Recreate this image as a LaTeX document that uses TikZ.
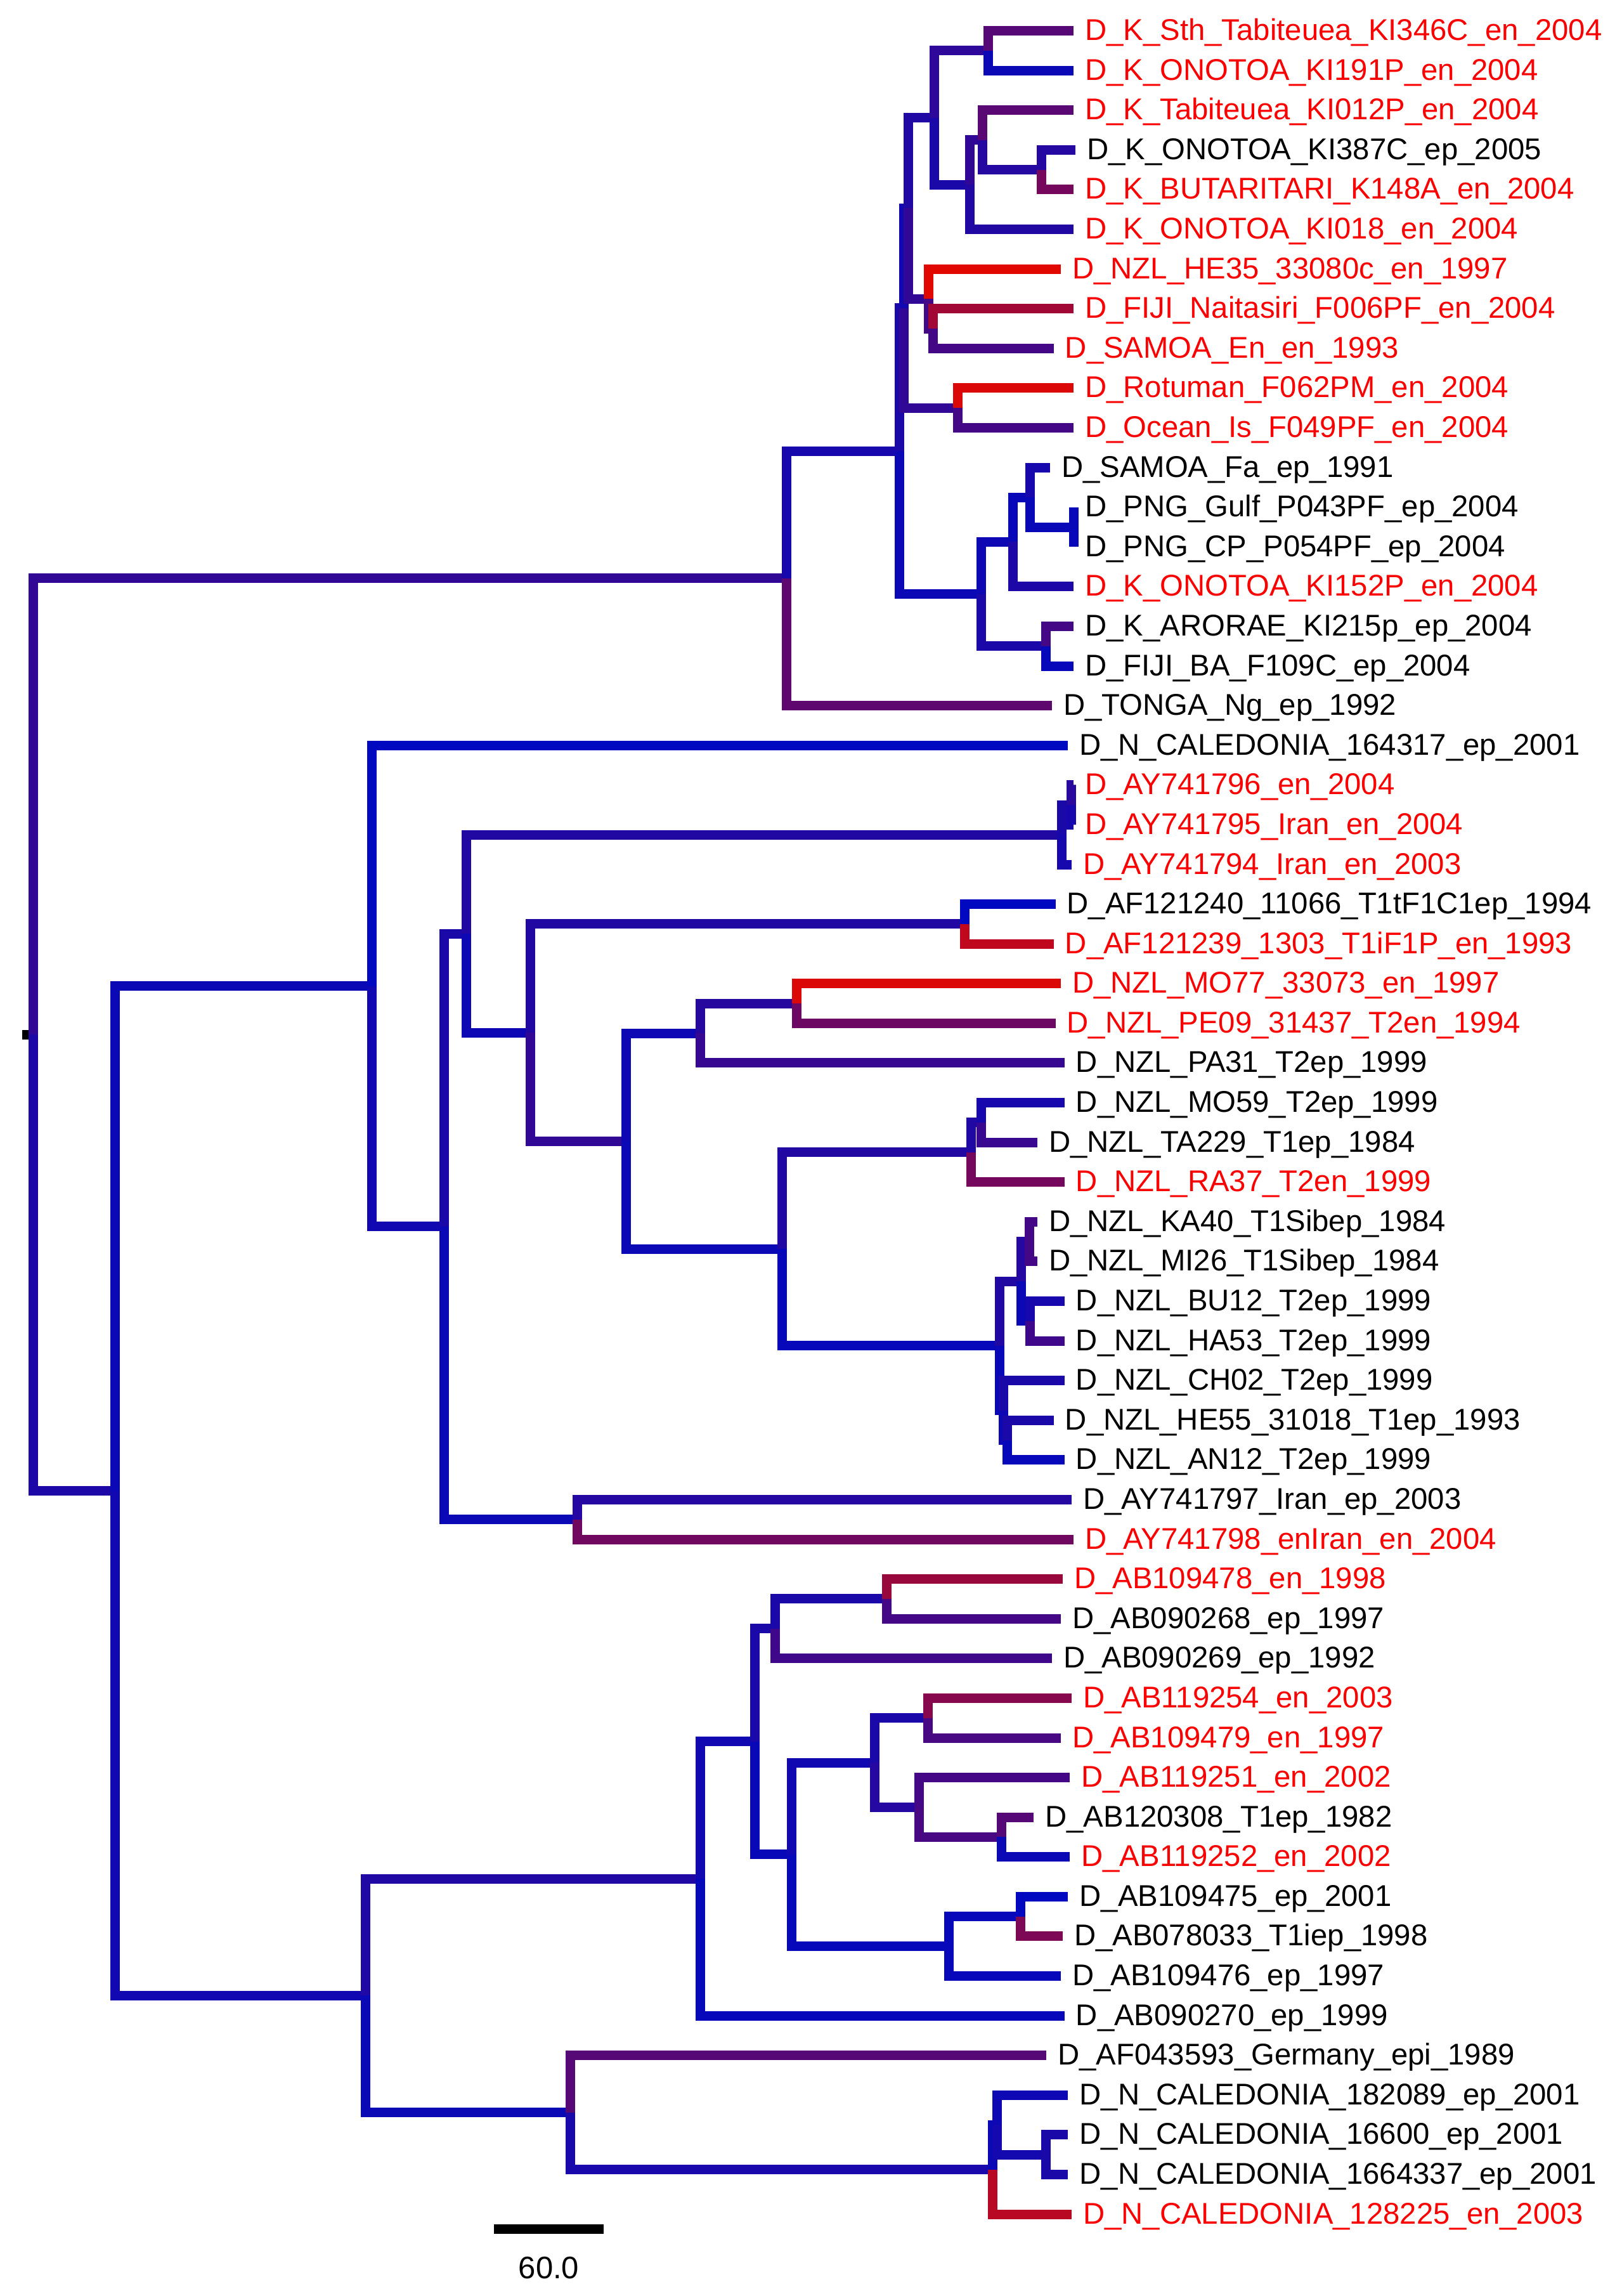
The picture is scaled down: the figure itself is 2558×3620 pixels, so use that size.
\documentclass[tikz,border=0pt]{standalone}
\usepackage{fontspec}
\setmainfont{Liberation Sans}
\definecolor{cr}{RGB}{225,8,0}
\definecolor{cb}{RGB}{0,8,192}
\definecolor{labred}{RGB}{250,0,0}
\newcommand\tip[5]{%
  \coordinate (#1) at ({1693+(#3-2004)*2.85},{48.6+(#2-1)*62.59});
  \node[lab,text=#4] (#1t) at ({1711+(#3-2004)*2.85},{63.6+(#2-1)*62.59}) {#5};}
\newcommand\br[3]{\draw[branch,draw=cr!#1!cb] (#2) |- (#3);}
\begin{document}
\begin{tikzpicture}[x=1pt,y=-1pt,
  branch/.style={line width=15pt,line join=miter},
  lab/.style={anchor=base west,inner sep=0pt,font=\fontsize{47.3}{50}\selectfont}]
\fill[white] (0,0) rectangle (2558,3620);
\useasboundingbox (0,0) rectangle (2558,3620);
% leaves
\tip{L1}{1}{2004}{labred}{D\_K\_Sth\_Tabiteuea\_KI346C\_en\_2004}
\tip{L2}{2}{2004}{labred}{D\_K\_ONOTOA\_KI191P\_en\_2004}
\tip{L3}{3}{2004}{labred}{D\_K\_Tabiteuea\_KI012P\_en\_2004}
\tip{L4}{4}{2005}{black}{D\_K\_ONOTOA\_KI387C\_ep\_2005}
\tip{L5}{5}{2004}{labred}{D\_K\_BUTARITARI\_K148A\_en\_2004}
\tip{L6}{6}{2004}{labred}{D\_K\_ONOTOA\_KI018\_en\_2004}
\tip{L7}{7}{1997}{labred}{D\_NZL\_HE35\_33080c\_en\_1997}
\tip{L8}{8}{2004}{labred}{D\_FIJI\_Naitasiri\_F006PF\_en\_2004}
\tip{L9}{9}{1993}{labred}{D\_SAMOA\_En\_en\_1993}
\tip{L10}{10}{2004}{labred}{D\_Rotuman\_F062PM\_en\_2004}
\tip{L11}{11}{2004}{labred}{D\_Ocean\_Is\_F049PF\_en\_2004}
\tip{L12}{12}{1991}{black}{D\_SAMOA\_Fa\_ep\_1991}
\tip{L13}{13}{2004}{black}{D\_PNG\_Gulf\_P043PF\_ep\_2004}
\tip{L14}{14}{2004}{black}{D\_PNG\_CP\_P054PF\_ep\_2004}
\tip{L15}{15}{2004}{labred}{D\_K\_ONOTOA\_KI152P\_en\_2004}
\tip{L16}{16}{2004}{black}{D\_K\_ARORAE\_KI215p\_ep\_2004}
\tip{L17}{17}{2004}{black}{D\_FIJI\_BA\_F109C\_ep\_2004}
\tip{L18}{18}{1992}{black}{D\_TONGA\_Ng\_ep\_1992}
\tip{L19}{19}{2001}{black}{D\_N\_CALEDONIA\_164317\_ep\_2001}
\tip{L20}{20}{2004}{labred}{D\_AY741796\_en\_2004}
\tip{L21}{21}{2004}{labred}{D\_AY741795\_Iran\_en\_2004}
\tip{L22}{22}{2003}{labred}{D\_AY741794\_Iran\_en\_2003}
\tip{L23}{23}{1994}{black}{D\_AF121240\_11066\_T1tF1C1ep\_1994}
\tip{L24}{24}{1993}{labred}{D\_AF121239\_1303\_T1iF1P\_en\_1993}
\tip{L25}{25}{1997}{labred}{D\_NZL\_MO77\_33073\_en\_1997}
\tip{L26}{26}{1994}{labred}{D\_NZL\_PE09\_31437\_T2en\_1994}
\tip{L27}{27}{1999}{black}{D\_NZL\_PA31\_T2ep\_1999}
\tip{L28}{28}{1999}{black}{D\_NZL\_MO59\_T2ep\_1999}
\tip{L29}{29}{1984}{black}{D\_NZL\_TA229\_T1ep\_1984}
\tip{L30}{30}{1999}{labred}{D\_NZL\_RA37\_T2en\_1999}
\tip{L31}{31}{1984}{black}{D\_NZL\_KA40\_T1Sibep\_1984}
\tip{L32}{32}{1984}{black}{D\_NZL\_MI26\_T1Sibep\_1984}
\tip{L33}{33}{1999}{black}{D\_NZL\_BU12\_T2ep\_1999}
\tip{L34}{34}{1999}{black}{D\_NZL\_HA53\_T2ep\_1999}
\tip{L35}{35}{1999}{black}{D\_NZL\_CH02\_T2ep\_1999}
\tip{L36}{36}{1993}{black}{D\_NZL\_HE55\_31018\_T1ep\_1993}
\tip{L37}{37}{1999}{black}{D\_NZL\_AN12\_T2ep\_1999}
\tip{L38}{38}{2003}{black}{D\_AY741797\_Iran\_ep\_2003}
\tip{L39}{39}{2004}{labred}{D\_AY741798\_enIran\_en\_2004}
\tip{L40}{40}{1998}{labred}{D\_AB109478\_en\_1998}
\tip{L41}{41}{1997}{black}{D\_AB090268\_ep\_1997}
\tip{L42}{42}{1992}{black}{D\_AB090269\_ep\_1992}
\tip{L43}{43}{2003}{labred}{D\_AB119254\_en\_2003}
\tip{L44}{44}{1997}{labred}{D\_AB109479\_en\_1997}
\tip{L45}{45}{2002}{labred}{D\_AB119251\_en\_2002}
\tip{L46}{46}{1982}{black}{D\_AB120308\_T1ep\_1982}
\tip{L47}{47}{2002}{labred}{D\_AB119252\_en\_2002}
\tip{L48}{48}{2001}{black}{D\_AB109475\_ep\_2001}
\tip{L49}{49}{1998}{black}{D\_AB078033\_T1iep\_1998}
\tip{L50}{50}{1997}{black}{D\_AB109476\_ep\_1997}
\tip{L51}{51}{1999}{black}{D\_AB090270\_ep\_1999}
\tip{L52}{52}{1989}{black}{D\_AF043593\_Germany\_epi\_1989}
\tip{L53}{53}{2001}{black}{D\_N\_CALEDONIA\_182089\_ep\_2001}
\tip{L54}{54}{2001}{black}{D\_N\_CALEDONIA\_16600\_ep\_2001}
\tip{L55}{55}{2001}{black}{D\_N\_CALEDONIA\_1664337\_ep\_2001}
\tip{L56}{56}{2003}{labred}{D\_N\_CALEDONIA\_128225\_en\_2003}
% internal nodes
\coordinate (root) at (52,1631.2);
\coordinate (A) at (1240,911.9);
\coordinate (A1) at (1418,711.2);
\coordinate (G3) at (1425,485.75);
\coordinate (G1) at (1432,328.3);
\coordinate (K5) at (1473,185.5);
\coordinate (K1) at (1558,79.9);
\coordinate (K4) at (1529,291.1);
\coordinate (K3) at (1549,220.7);
\coordinate (K2) at (1642,267.67);
\coordinate (F1) at (1464,471.1);
\coordinate (F2) at (1471,518.0);
\coordinate (R) at (1510,643.2);
\coordinate (P) at (1547,936.6);
\coordinate (P1) at (1597,854.4);
\coordinate (P3) at (1624.5,784.0);
\coordinate (P4) at (1693,831.0);
\coordinate (P2) at (1649,1018.7);
\coordinate (B) at (181,2350.5);
\coordinate (C) at (586,1554.6);
\coordinate (C1) at (700,1933.9);
\coordinate (C2) at (735,1472.0);
\coordinate (C3) at (910,2395.7);
\coordinate (C4) at (1674,1316.0);
\coordinate (C6) at (1689,1269.1);
\coordinate (C5) at (836,1628.1);
\coordinate (C7) at (1521,1456.9);
\coordinate (C8) at (987,1799.2);
\coordinate (C9) at (1104,1629.0);
\coordinate (C11) at (1256,1582.1);
\coordinate (C10) at (1233,1969.4);
\coordinate (C12) at (1531,1816.8);
\coordinate (C14) at (1547,1769.8);
\coordinate (C13) at (1576,2121.9);
\coordinate (C15) at (1610,2020.2);
\coordinate (C16) at (1623,1957.6);
\coordinate (C17) at (1624,2082.8);
\coordinate (C18) at (1582,2223.6);
\coordinate (C19) at (1588,2270.5);
\coordinate (D) at (576,3146.3);
\coordinate (D1) at (1104,2962.0);
\coordinate (D3) at (1190,2745.8);
\coordinate (D4) at (1222,2567.8);
\coordinate (D6) at (1398,2520.9);
\coordinate (D5) at (1248.5,2923.8);
\coordinate (D7) at (1379,2779.1);
\coordinate (D9) at (1463,2708.7);
\coordinate (D10) at (1449,2849.5);
\coordinate (D11) at (1579,2896.4);
\coordinate (D8) at (1496,3068.6);
\coordinate (D12) at (1609.5,3021.6);
\coordinate (D2) at (899,3330.6);
\coordinate (D13) at (1565,3420.6);
\coordinate (D14) at (1572,3350.2);
\coordinate (D15) at (1649.5,3397.2);
% root stub
\coordinate (stub) at (35,1631.2);
\draw[line width=15pt,black] (stub) -- (root);
% branches
\br{22}{root}{A}
\br{13}{root}{B}
\br{10}{A}{A1}
\br{42}{A}{L18}
\br{12}{A1}{G3}
\br{5}{A1}{P}
\br{8}{G3}{G1}
\br{22}{G3}{R}
\br{14}{G1}{K5}
\br{22}{G1}{F1}
\br{20}{K5}{K1}
\br{12}{K5}{K4}
\br{38}{K1}{L1}
\br{5}{K1}{L2}
\br{22}{K4}{K3}
\br{15}{K4}{L6}
\br{40}{K3}{L3}
\br{16}{K3}{K2}
\br{16}{K2}{L4}
\br{52}{K2}{L5}
\br{100}{F1}{L7}
\br{30}{F1}{F2}
\br{72}{F2}{L8}
\br{30}{F2}{L9}
\br{97}{R}{L10}
\br{30}{R}{L11}
\br{6}{P}{P1}
\br{12}{P}{P2}
\br{4}{P1}{P3}
\br{13}{P1}{L15}
\br{10}{P3}{L12}
\br{4}{P3}{P4}
\br{4}{P4}{L13}
\br{4}{P4}{L14}
\br{30}{P2}{L16}
\br{3}{P2}{L17}
\br{5}{B}{C}
\br{8}{B}{D}
\br{0}{C}{L19}
\br{8}{C}{C1}
\br{12}{C1}{C2}
\br{5}{C1}{C3}
\br{16}{C3}{L38}
\br{50}{C3}{L39}
\br{15}{C2}{C4}
\br{6}{C2}{C5}
\br{12}{C4}{C6}
\br{10}{C4}{L22}
\br{18}{C6}{L20}
\br{10}{C6}{L21}
\br{15}{C5}{C7}
\br{22}{C5}{C8}
\br{0}{C7}{L23}
\br{85}{C7}{L24}
\br{6}{C8}{C9}
\br{5}{C8}{C10}
\br{17}{C9}{C11}
\br{24}{C9}{L27}
\br{97}{C11}{L25}
\br{48}{C11}{L26}
\br{15}{C10}{C12}
\br{3}{C10}{C13}
\br{14}{C12}{C14}
\br{52}{C12}{L30}
\br{10}{C14}{L28}
\br{25}{C14}{L29}
\br{15}{C13}{C15}
\br{4}{C13}{C18}
\br{16}{C15}{C16}
\br{5}{C15}{C17}
\br{30}{C16}{L31}
\br{30}{C16}{L32}
\br{10}{C17}{L33}
\br{28}{C17}{L34}
\br{12}{C18}{L35}
\br{6}{C18}{C19}
\br{12}{C19}{L36}
\br{3}{C19}{L37}
\br{14}{D}{D1}
\br{5}{D}{D2}
\br{8}{D1}{D3}
\br{3}{D1}{L51}
\br{12}{D3}{D4}
\br{4}{D3}{D5}
\br{12}{D4}{D6}
\br{28}{D4}{L42}
\br{68}{D6}{L40}
\br{30}{D6}{L41}
\br{8}{D5}{D7}
\br{3}{D5}{D8}
\br{12}{D7}{D9}
\br{16}{D7}{D10}
\br{60}{D9}{L43}
\br{32}{D9}{L44}
\br{30}{D10}{L45}
\br{32}{D10}{D11}
\br{38}{D11}{L46}
\br{5}{D11}{L47}
\br{3}{D8}{D12}
\br{3}{D8}{L50}
\br{0}{D12}{L48}
\br{55}{D12}{L49}
\br{38}{D2}{L52}
\br{11}{D2}{D13}
\br{5}{D13}{D14}
\br{82}{D13}{L56}
\br{6}{D14}{L53}
\br{9}{D14}{D15}
\br{12}{D15}{L54}
\br{12}{D15}{L55}
% scale bar
\coordinate (sb1) at (779,3514.7);
\coordinate (sb2) at (952,3514.7);
\draw[line width=15pt,black] (sb1) -- (sb2);
\node[anchor=base,inner sep=0pt,font=\fontsize{49}{52}\selectfont] (sbl) at (865.5,3592) {60.0};
\end{tikzpicture}
\end{document}
